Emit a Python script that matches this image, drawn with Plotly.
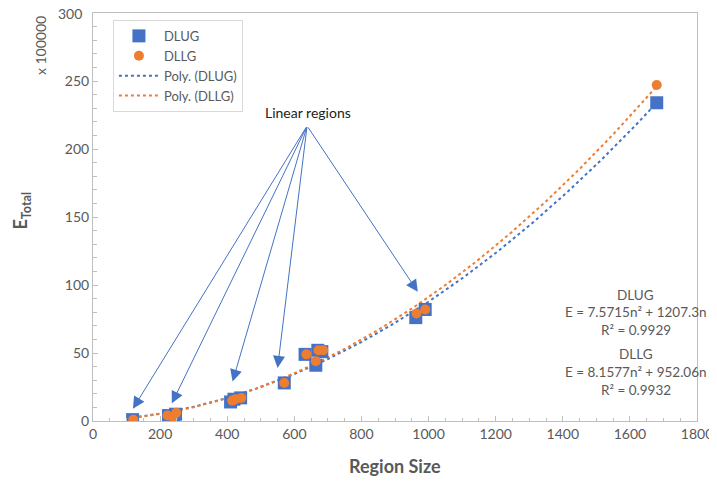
import numpy as np
import plotly.graph_objects as go

# Region sizes and energies (x 100000)
dlug_x = [118, 225, 240, 246, 410, 420, 440, 570, 632, 664, 670, 682, 962, 990, 1680]
dlug_y = [1, 4, 2, 5, 14, 16, 17, 28, 49, 41, 52, 51, 76, 82, 234]
dllg_x = [120, 222, 238, 248, 415, 424, 442, 570, 636, 664, 672, 686, 964, 990, 1680]
dllg_y = [1, 4, 3, 6, 15, 16, 17, 28, 49, 44, 52, 52, 79, 82, 247]

# Polynomial trend coefficients (a n^2 + b n), result in units of 1e5
dlug_coef = [7.5715, 1207.3]
dllg_coef = [8.1577, 952.06]
scale = 100000

y_ticks = [0, 50, 100, 150, 200, 250, 300]

arrow_targets_x = [119, 235, 416, 550, 968]
arrow_targets_y = [9, 13, 29, 39, 95]
arrow_origin = (638, 217)

BLUE = "#4472C4"
ORANGE = "#ED7D31"
GRAY = "#595959"
FONT = "Lato, Open Sans, sans-serif"

n = np.linspace(min(dlug_x), max(dlug_x), 200)

def poly(c):
    return (c[0] * n ** 2 + c[1] * n) / scale

fig = go.Figure()
fig.add_trace(go.Scatter(x=n, y=poly(dlug_coef), mode="lines", name="Poly. (DLUG)",
                         line=dict(color=BLUE, dash="dot", width=2), legendrank=3))
fig.add_trace(go.Scatter(x=n, y=poly(dllg_coef), mode="lines", name="Poly. (DLLG)",
                         line=dict(color=ORANGE, dash="dot", width=2), legendrank=4))
fig.add_trace(go.Scatter(x=dlug_x, y=dlug_y, mode="markers", name="DLUG",
                         marker=dict(symbol="square", size=13, color=BLUE), legendrank=1))
fig.add_trace(go.Scatter(x=dllg_x, y=dllg_y, mode="markers", name="DLLG",
                         marker=dict(symbol="circle", size=10, color=ORANGE), legendrank=2))

annotations = []
for tx, ty in zip(arrow_targets_x, arrow_targets_y):
    annotations.append(dict(x=tx, y=ty, ax=arrow_origin[0], ay=arrow_origin[1],
                            xref="x", yref="y", axref="x", ayref="y", text="",
                            showarrow=True, arrowhead=2, arrowsize=2.4, arrowwidth=1,
                            arrowcolor=BLUE))
annotations.append(dict(x=640, y=227, xref="x", yref="y", text="Linear regions",
                        showarrow=False, font=dict(size=14, color="#222222")))

eq_font = dict(size=13.5, color=GRAY, family=FONT)
eq_lines = [("DLUG", 93), ("E = 7.5715n² + 1207.3n", 80), ("R² = 0.9929", 67),
            ("DLLG", 49), ("E = 8.1577n² + 952.06n", 36), ("R² = 0.9932", 23)]
for t, yv in eq_lines:
    annotations.append(dict(x=1618, y=yv, xref="x", yref="y", text=t, showarrow=False,
                            font=eq_font))

# top tick label (drawn as text so it is not clipped at the page edge)
annotations.append(dict(x=0, y=y_ticks[-1], xref="paper", yref="y", text=str(y_ticks[-1]),
                        showarrow=False, xanchor="right", yanchor="middle", xshift=-9,
                        font=dict(size=14, color=GRAY)))

annotations.append(dict(x=-0.087, y=0.92, xref="paper", yref="paper", text="x 100000",
                        textangle=-90, showarrow=False, xanchor="center", yanchor="middle",
                        font=dict(size=14, color=GRAY)))
annotations.append(dict(x=-0.118, y=0.515, xref="paper", yref="paper",
                        text="<b>E<sub>Total</sub></b>", textangle=-90, showarrow=False,
                        xanchor="center", yanchor="middle", font=dict(size=18, color=GRAY)))
annotations.append(dict(x=0.5, y=-0.11, xref="paper", yref="paper",
                        text="<b>Region Size</b>", showarrow=False, yanchor="middle",
                        font=dict(size=18, color=GRAY)))

fig.update_layout(
    width=709, height=473,
    margin=dict(l=85, r=20, t=5, b=60, autoexpand=False),
    plot_bgcolor="white", paper_bgcolor="white",
    font=dict(family=FONT, size=14, color=GRAY),
    showlegend=True,
    legend=dict(x=0.033, y=0.983, xanchor="left", yanchor="top", bgcolor="white",
                bordercolor="#D9D9D9", borderwidth=1, font=dict(size=13, color=GRAY),
                tracegroupgap=0, itemwidth=40),
    annotations=annotations,
)
fig.update_xaxes(range=[0, 1800], dtick=200, tick0=0, showgrid=False, zeroline=False,
                 showline=True, linecolor="#BFBFBF", linewidth=1, mirror=True,
                 ticks="inside", ticklen=5, tickcolor="#BFBFBF", automargin=False,
                 minor=dict(dtick=50, ticks="inside", ticklen=3, tickcolor="#BFBFBF"),
                 tickfont=dict(size=14, color=GRAY))
fig.update_yaxes(range=[0, 300], tickvals=y_ticks[:-1], showgrid=False, zeroline=False,
                 showline=True, linecolor="#BFBFBF", linewidth=1, mirror=True,
                 ticks="inside", ticklen=5, tickcolor="#BFBFBF", automargin=False,
                 minor=dict(dtick=10, tick0=0, ticks="inside", ticklen=4, tickcolor="#BFBFBF"),
                 tickfont=dict(size=14, color=GRAY), ticksuffix="   ")

fig.write_html("out.html")
